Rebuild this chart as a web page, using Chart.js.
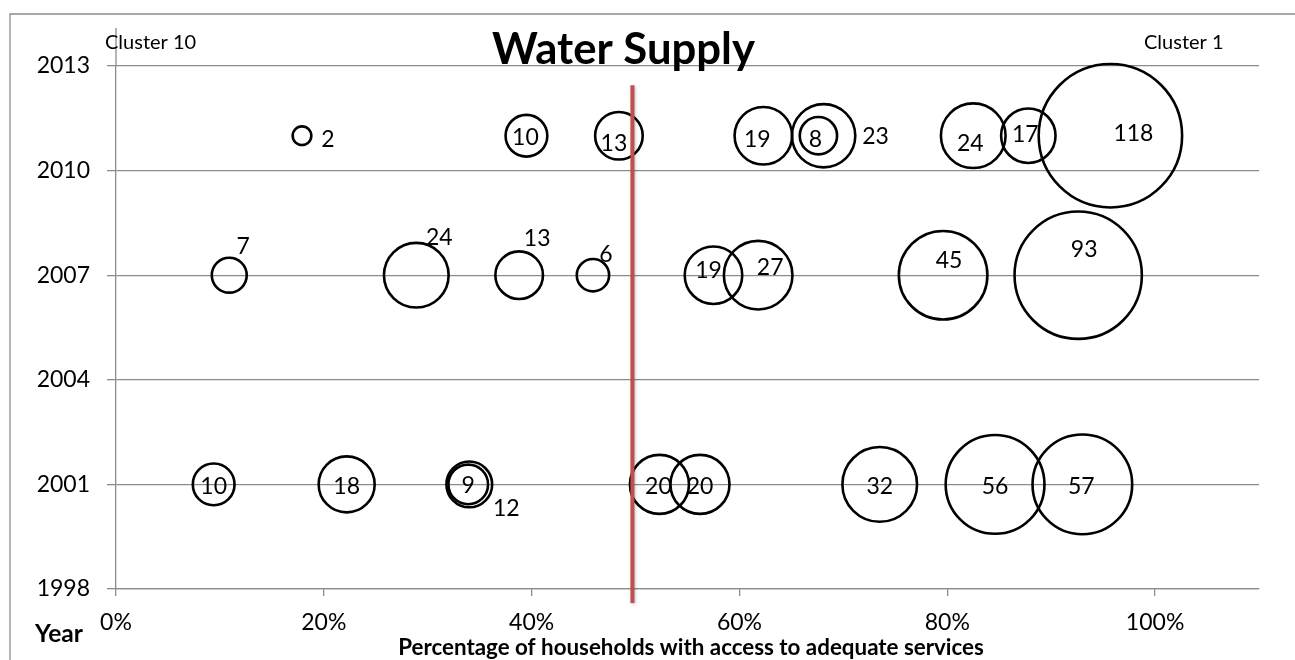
<!DOCTYPE html>
<html>
<head>
<meta charset="utf-8">
<script src="https://cdn.jsdelivr.net/npm/chart.js@4.4.1/dist/chart.umd.min.js"></script>
<style>
  html, body { margin: 0; padding: 0; background: #fff; }
  #wrap { width: 1295px; height: 660px; position: relative; }
</style>
</head>
<body>
<div id="wrap"><canvas id="c" width="1295" height="660"></canvas></div>
<script>
// ---- Data ----
const rowYears = [2011, 2007, 2001];

const pct2011 = [17.9, 39.5, 48.4, 62.3, 67.6, 68.1, 82.5, 87.8, 95.7];
const n2011   = [2, 10, 13, 19, 8, 23, 24, 17, 118];

const pct2007 = [10.9, 28.9, 38.8, 45.9, 57.5, 61.8, 79.6, 92.6];
const n2007   = [7, 24, 13, 6, 19, 27, 45, 93];

const pct2001 = [9.4, 22.2, 33.9, 34.0, 52.3, 56.2, 73.5, 84.6, 93.0];
const n2001   = [10, 18, 9, 12, 20, 20, 32, 56, 57];

const xTicks = [0, 20, 40, 60, 80, 100];
const yTicks = [1998, 2001, 2004, 2007, 2010, 2013];
const thresholdPct = 49.7;

const titleText = 'Water Supply';
const xTitle = 'Percentage of households with access to adequate services';
const yTitle = 'Year';
const leftNote = 'Cluster 10';
const rightNote = 'Cluster 1';

// ---- Styling / label placement (layout only) ----
const BUBBLE_K = 6.6;
const LABEL_SIZE = 23;
const off2011 = [[26,3],[-1,1],[-5,7],[-6,3],[-3,3],[52,0],[-3,7],[-3,-2],[23,-3]];
const off2007 = [[14,-29],[23,-38],[18,-37],[13,-21],[-5,-5],[12,-8],[6,-15],[6,-26]];
const off2001 = [[0,1],[0,1],[0,0],[37,23],[-1,1],[0,1],[0,1],[0,1],[-1,1]];

const FONT = 'Lato, "Open Sans", "DejaVu Sans", sans-serif';

function makeData(xs, ns, year) {
  return xs.map((x, i) => ({ x: x, y: year, r: BUBBLE_K * Math.sqrt(ns[i]), n: ns[i] }));
}
function ds(xs, ns, year, offs) {
  return {
    data: makeData(xs, ns, year),
    labelOffsets: offs,
    borderColor: '#000',
    backgroundColor: 'rgba(0,0,0,0)',
    borderWidth: 2.6,
    hoverBorderWidth: 2.6,
    hoverRadius: 0,
    clip: false
  };
}

function fitFont(ctx, text, weight, target) {
  ctx.font = weight + ' 100px ' + FONT;
  const w = ctx.measureText(text).width;
  return 100 * target / w;
}

const decor = {
  id: 'decor',
  beforeDraw(chart) {
    const ctx = chart.ctx;
    ctx.save();
    ctx.fillStyle = '#fff';
    ctx.fillRect(0, 0, chart.width, chart.height);
    ctx.strokeStyle = '#8c8c8c';
    ctx.lineWidth = 1.3;
    ctx.beginPath();
    ctx.moveTo(10, 662);
    ctx.lineTo(10, 14);
    ctx.lineTo(1300, 14);
    ctx.stroke();
    const ca = chart.chartArea;
    ctx.beginPath();
    ctx.moveTo(ca.left, 28);
    ctx.lineTo(ca.left, ca.top);
    ctx.stroke();
    ctx.restore();
  },
  afterDatasetsDraw(chart) {
    const ctx = chart.ctx;
    const xs = chart.scales.x, ys = chart.scales.y;
    ctx.save();
    const lx = xs.getPixelForValue(thresholdPct);
    ctx.shadowColor = 'rgba(0,0,0,0.25)';
    ctx.shadowBlur = 3;
    ctx.shadowOffsetX = 1;
    ctx.shadowOffsetY = 1;
    ctx.strokeStyle = '#c0504d';
    ctx.lineWidth = 4;
    ctx.beginPath();
    ctx.moveTo(lx, ys.getPixelForValue(2012.45));
    ctx.lineTo(lx, ys.getPixelForValue(1997.6));
    ctx.stroke();
    ctx.restore();

    ctx.save();
    ctx.fillStyle = '#000';
    ctx.font = LABEL_SIZE + 'px ' + FONT;
    ctx.textAlign = 'center';
    ctx.textBaseline = 'alphabetic';
    chart.data.datasets.forEach((d, di) => {
      const meta = chart.getDatasetMeta(di);
      meta.data.forEach((el, i) => {
        const o = d.labelOffsets[i];
        ctx.fillText(String(d.data[i].n), el.x + o[0], el.y + o[1] + LABEL_SIZE * 0.36);
      });
    });
    ctx.restore();

    ctx.save();
    ctx.fillStyle = '#000';
    ctx.textBaseline = 'alphabetic';
    let s = fitFont(ctx, titleText, 'bold', 263);
    ctx.font = 'bold ' + s + 'px ' + FONT;
    ctx.textAlign = 'center';
    ctx.fillText(titleText, 623.5, 63.5);

    ctx.font = '20px ' + FONT;
    ctx.textAlign = 'left';
    ctx.fillText(leftNote, 105, 49);
    ctx.fillText(rightNote, 1144, 49);

    s = fitFont(ctx, yTitle, 'bold', 48);
    ctx.font = 'bold ' + s + 'px ' + FONT;
    ctx.fillText(yTitle, 35, 642);

    s = fitFont(ctx, xTitle, 'bold', 586);
    ctx.font = 'bold ' + s + 'px ' + FONT;
    ctx.textAlign = 'center';
    ctx.fillText(xTitle, 691, 655);
    ctx.restore();
  }
};

new Chart(document.getElementById('c'), {
  type: 'bubble',
  data: {
    datasets: [
      ds(pct2011, n2011, rowYears[0], off2011),
      ds(pct2007, n2007, rowYears[1], off2007),
      ds(pct2001, n2001, rowYears[2], off2001)
    ]
  },
  options: {
    responsive: false,
    animation: false,
    devicePixelRatio: 1,
    events: [],
    layout: { autoPadding: false, padding: { top: 66, right: 36, left: 0, bottom: 0 } },
    plugins: { legend: { display: false }, tooltip: { enabled: false }, title: { display: false } },
    scales: {
      x: {
        type: 'linear', position: 'bottom', min: 0, max: 110,
        afterBuildTicks: (s) => { s.ticks = xTicks.map(v => ({ value: v })); },
        afterFit: (s) => { s.height = 71; s.paddingLeft = 0; s.paddingRight = 0; },
        ticks: { callback: (v) => v + '%', color: '#000', font: { family: FONT, size: 23 }, padding: 13, maxRotation: 0, autoSkip: false },
        grid: { drawOnChartArea: false, drawTicks: true, tickLength: 7, color: '#8c8c8c', lineWidth: 1.3 },
        border: { display: true, color: '#8c8c8c', width: 1.3 }
      },
      y: {
        type: 'linear', position: 'left', min: 1998, max: 2013,
        afterBuildTicks: (s) => { s.ticks = yTicks.map(v => ({ value: v })); },
        afterFit: (s) => { s.width = 116; s.paddingTop = 0; s.paddingBottom = 0; },
        ticks: { callback: (v) => String(v), color: '#000', font: { family: FONT, size: 23 }, padding: 17, autoSkip: false },
        grid: { drawTicks: true, tickLength: 9, color: '#8c8c8c', lineWidth: 1.3 },
        border: { display: true, color: '#8c8c8c', width: 1.3 }
      }
    }
  },
  plugins: [decor]
});
</script>
</body>
</html>
